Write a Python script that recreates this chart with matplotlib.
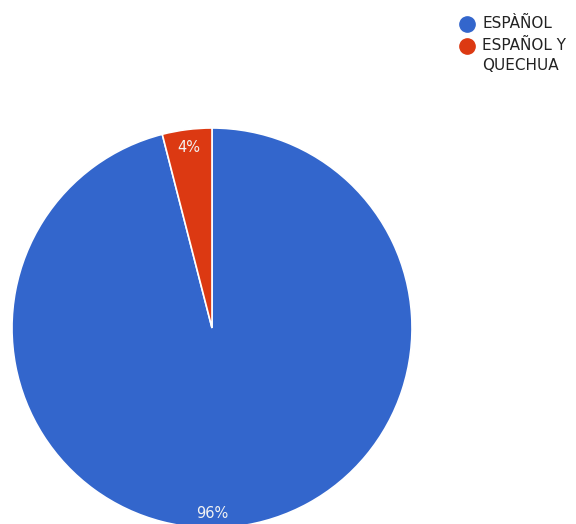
import matplotlib.pyplot as plt
from matplotlib.lines import Line2D

# data
labels = ["ESPÀÑOL", "ESPAÑOL Y\nQUECHUA"]
values = [96, 4]
colors = ["#3366cc", "#dc3912"]

W, H = 576, 524
fig = plt.figure(figsize=(W / 100, H / 100), dpi=100)

# pie centre at (212, 328) px from top-left, radius 200 px
cx, cy, r = 212, 328, 200
ax = fig.add_axes([(cx - r) / W, (H - cy - r) / H, 2 * r / W, 2 * r / H])
wedges, texts, autotexts = ax.pie(
    values, colors=colors, startangle=90, counterclock=False,
    autopct="%d%%", pctdistance=0.91,
    wedgeprops=dict(edgecolor="white", linewidth=1.2),
    textprops=dict(color="#f2f2f2", fontsize=10.5),
)
# google puts the big slice label straight under the centre
autotexts[0].set_position((0, -0.925))
ax.set_xlim(-1, 1)
ax.set_ylim(-1, 1)
ax.set_aspect("auto")
ax.axis("off")

# legend drawn by hand so the dot sits on the first line of a wrapped label
ly = 24
for lab, c in zip(labels, colors):
    fig.add_artist(Line2D([467 / W], [1 - ly / H], marker="o", markersize=11,
                          markerfacecolor=c, markeredgecolor=c,
                          transform=fig.transFigure))
    fig.text(482 / W, 1 - (ly - 8) / H, lab, fontsize=11, color="#222222",
             va="top", ha="left", linespacing=1.45)
    ly += 22

fig.savefig("out.png", dpi=100)
